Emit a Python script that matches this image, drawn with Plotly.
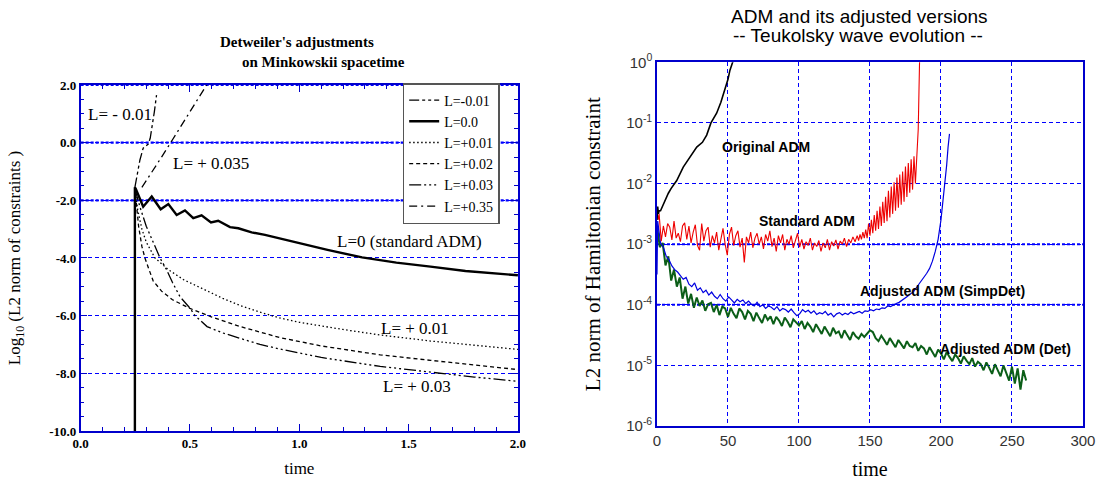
import numpy as np
import plotly.graph_objects as go

# ---------------- Left panel data (log10 of L2 norm) ----------------
t_L0 = [0.248, 0.248, 0.252, 0.286, 0.325, 0.366, 0.401, 0.439, 0.477, 0.515, 0.553, 0.596,
        0.629, 0.683, 0.721, 0.782, 0.843, 0.934, 1.026, 1.129, 1.287, 1.444, 1.60, 1.76, 2.0]
y_L0 = [-10.0, -1.55, -1.6, -2.22, -1.87, -2.31, -2.13, -2.51, -2.35, -2.62, -2.52, -2.77,
        -2.71, -2.93, -2.97, -3.11, -3.20, -3.37, -3.55, -3.72, -3.98, -4.16, -4.30, -4.45, -4.60]

t_Lm001 = [0.248, 0.26, 0.271, 0.286, 0.299, 0.309, 0.318, 0.325, 0.337, 0.347]
y_Lm001 = [-1.55, -1.1, -0.6, -0.19, -0.09, -0.05, 0.15, 0.44, 1.07, 1.65]

t_L001 = [0.248, 0.26, 0.28, 0.30, 0.34, 0.40, 0.47, 0.55, 0.65, 0.73, 0.82, 0.91, 1.0,
          1.2, 1.37, 1.6, 1.8, 2.0]
y_L001 = [-1.6, -2.3, -3.0, -3.45, -4.0, -4.4, -4.75, -5.05, -5.4, -5.65, -5.88, -6.08, -6.23,
          -6.48, -6.67, -6.88, -7.03, -7.17]

t_L002 = [0.248, 0.255, 0.265, 0.28, 0.294, 0.31, 0.332, 0.37, 0.42, 0.5, 0.6, 0.73, 0.91,
          1.1, 1.37, 1.6, 1.8, 2.0]
y_L002 = [-1.6, -2.2, -2.9, -3.6, -4.0, -4.35, -4.8, -5.15, -5.45, -5.75, -6.05, -6.38, -6.76,
          -7.05, -7.36, -7.55, -7.72, -7.87]

t_L003 = [0.248, 0.27, 0.30, 0.33, 0.363, 0.393, 0.42, 0.454, 0.5, 0.523, 0.578, 0.65, 0.735,
          0.82, 0.913, 1.1, 1.37, 1.6, 1.8, 2.0]
y_L003 = [-1.6, -2.2, -2.9, -3.45, -4.0, -4.41, -4.85, -5.34, -5.74, -6.0, -6.38, -6.6, -6.81,
          -7.0, -7.16, -7.45, -7.76, -7.97, -8.13, -8.28]

t_L035 = [0.28, 0.32, 0.37, 0.42, 0.47, 0.52, 0.576]
y_L035 = [-1.55, -1.1, -0.5, 0.1, 0.72, 1.35, 2.0]

# ---------------- Right panel data (log10 of Hamiltonian constraint) ----------------
t_orig = [0, 0.5, 1, 1.5, 2.5, 4, 5.6, 8, 10, 13.9, 18.5, 23.2, 28, 32, 35, 38, 42, 45,
          47.9, 50, 51.4, 53.3, 54]
y_orig = [-2.6, -2.38, -2.5, -2.45, -2.45, -2.37, -2.28, -2.16, -2.08, -1.95, -1.73, -1.56,
          -1.40, -1.32, -1.2, -1.0, -0.84, -0.66, -0.46, -0.28, -0.13, 0.0, 0.05]

t_std_start = [0, 0.8, 1.5]
y_std_start = [-2.45, -2.6, -2.5]
t_std_flat = list(np.arange(3, 140, 1.5))
y_std_flat = [-2.95, -2.7, -2.88, -2.66, -2.72, -2.93, -2.62, -2.9, -2.82, -2.96, -2.7, -2.65,
              -2.92, -2.7, -2.98, -2.8, -2.68, -3.02, -3.1, -2.66, -2.95, -2.78, -2.72, -3.05,
              -2.86, -2.98, -2.8, -3.1, -2.9, -2.74, -3.0, -3.18,
              -2.84, -2.72, -3.02, -2.86, -2.78, -3.05, -2.9, -3.3, -2.88, -2.98, -2.8, -3.06,
              -2.9, -2.82, -3.0, -2.88, -3.08, -2.84, -2.95, -2.78, -3.04, -2.9, -3.12, -2.86,
              -2.98, -2.84, -3.1, -2.92, -3.0, -2.86, -3.06, -2.94, -2.82,
              -3.05, -2.92, -3.08, -2.96, -3.02, -2.9, -3.1, -2.98, -3.04, -2.94, -3.12, -2.98,
              -3.06, -2.92, -3.1, -2.96, -3.03, -2.93, -3.08, -2.95, -3.0, -2.9, -3.04, -2.92,
              -2.98, -2.88, -2.96]
t_std_rise = list(np.arange(141, 184, 1))
y_std_rise = [-2.86, -2.94, -2.84, -2.92, -2.8, -2.9, -2.76, -2.9, -2.66, -2.86, -2.6, -2.82,
              -2.52, -2.78, -2.45, -2.75, -2.38, -2.7, -2.3, -2.65, -2.22, -2.62, -2.12, -2.56,
              -2.05, -2.5, -1.98, -2.45, -1.9, -2.4, -1.85, -2.35, -1.8, -2.3, -1.72, -2.22,
              -1.66, -2.15, -1.6, -2.1, -1.55, -2.0, -1.45]
t_std_end = [183.5, 184, 184.5, 185]
y_std_end = [-1.38, -1.1, -0.5, 0.1]

t_simp_start = [0]
y_simp_start = [-3.5]
t_simp_main = list(np.arange(0.5, 181, 2))
y_simp_main = [-2.62, -2.98, -3.05, -3.2, -3.26, -3.36, -3.42, -3.46, -3.52, -3.58, -3.55, -3.66,
               -3.7, -3.64, -3.76, -3.72,
               -3.8, -3.76, -3.84, -3.79, -3.86, -3.9, -3.83, -3.9, -3.94, -3.87, -3.92, -3.97,
               -3.91, -3.95, -3.92,
               -3.98, -3.94, -3.99, -4.02, -3.96, -4.03, -4.0, -4.06, -4.02, -4.04, -4.08, -4.03,
               -4.1, -4.06, -4.08, -4.12, -4.07, -4.13, -4.18, -4.15,
               -4.08, -4.12, -4.09, -4.14, -4.1, -4.16, -4.13, -4.15, -4.11, -4.17, -4.14, -4.2,
               -4.15, -4.13, -4.17, -4.14, -4.16, -4.12, -4.15, -4.13,
               -4.11, -4.14, -4.1, -4.11, -4.08, -4.1, -4.07, -4.08, -4.05, -4.06, -4.02, -4.03,
               -4.0, -3.98, -3.96, -3.93, -3.9, -3.86, -3.82, -3.79]
t_simp_end = [182, 184, 186, 188, 190, 192, 194, 196, 198, 200, 202, 204, 205, 206]
y_simp_end = [-3.74, -3.68, -3.62, -3.55, -3.48, -3.4, -3.28, -3.12, -2.92, -2.6, -2.2, -1.7,
              -1.4, -1.18]

t_det = list(np.arange(0, 261, 2))
y_det = [-2.7, -3.05, -2.98, -3.35, -3.2, -3.6, -3.42, -3.7, -3.55, -3.9, -3.7, -3.98, -3.82,
         -4.05, -3.88, -4.02,
         -3.93, -4.1, -3.99, -3.97, -4.12, -4.0, -4.17, -4.03, -4.06, -4.2, -4.05, -4.15, -4.22,
         -4.06, -4.12,
         -4.24, -4.1, -4.15, -4.27, -4.13, -4.22, -4.3, -4.16, -4.25, -4.19, -4.32, -4.2, -4.26,
         -4.35, -4.21, -4.28, -4.37, -4.24, -4.3, -4.34,
         -4.27, -4.4, -4.3, -4.36, -4.45, -4.32, -4.4, -4.48, -4.36, -4.43, -4.52, -4.38, -4.47,
         -4.44, -4.55, -4.42, -4.5, -4.58, -4.45, -4.52,
         -4.56, -4.48, -4.53, -4.47, -4.42, -4.45, -4.55, -4.6, -4.51, -4.58, -4.66, -4.55,
         -4.62, -4.7, -4.58, -4.64, -4.72, -4.6, -4.68, -4.7,
         -4.63, -4.76, -4.68, -4.72, -4.82, -4.7, -4.78, -4.86, -4.74, -4.8, -4.9, -4.78, -4.86,
         -4.93, -4.82, -4.88, -4.97, -4.85, -4.92, -4.98,
         -4.88, -5.02, -4.94, -4.98, -5.08, -4.95, -5.04, -5.14, -4.98, -5.08, -5.18, -5.0,
         -5.12, -5.25, -5.02, -5.3, -5.05, -5.4, -5.08, -5.25]

BLUE = "#0000cc"
GRID = "#0000ff"
SERIF = "Liberation Serif"
SANS = "Liberation Sans"

fig = go.Figure()

# ---- left panel emphasized grid lines ----
for yv in [2.0, 0.0, -2.0]:
    fig.add_trace(go.Scatter(x=[0, 2], y=[yv, yv], mode="lines", xaxis="x", yaxis="y",
                             line=dict(color=GRID, width=2.2, dash="3px,2px"),
                             showlegend=False, hoverinfo="skip"))

left_series = [
    ("L=-0.01", t_Lm001, y_Lm001, 1.3, "10px,3px,3px,3px,3px,3px"),
    ("L=0.0", t_L0, y_L0, 2.4, "solid"),
    ("L=+0.01", t_L001, y_L001, 1.3, "1.5px,2.5px"),
    ("L=+0.02", t_L002, y_L002, 1.3, "4px,3px"),
    ("L=+0.03", t_L003, y_L003, 1.3, "12px,3px,2px,3px,2px,3px,2px,3px"),
    ("L=+0.35", t_L035, y_L035, 1.3, "8px,4px,2px,4px"),
]
for name, tx, ty, w, d in left_series:
    fig.add_trace(go.Scatter(x=tx, y=ty, mode="lines", name=name, xaxis="x", yaxis="y",
                             line=dict(color="black", width=w, dash=d), showlegend=True))

# ---- right panel emphasized grid lines ----
for yv in [1e-3, 1e-4]:
    fig.add_trace(go.Scatter(x=[0, 300], y=[yv, yv], mode="lines", xaxis="x2", yaxis="y2",
                             line=dict(color=GRID, width=2, dash="3px,2px"),
                             showlegend=False, hoverinfo="skip"))

def pw(v):
    return [10.0 ** a for a in v]

fig.add_trace(go.Scatter(x=t_det, y=pw(y_det), mode="lines", xaxis="x2", yaxis="y2",
                         line=dict(color="#0b5e18", width=2.0), showlegend=False))
fig.add_trace(go.Scatter(x=t_simp_start + t_simp_main + t_simp_end,
                         y=pw(y_simp_start + y_simp_main + y_simp_end), mode="lines",
                         xaxis="x2", yaxis="y2",
                         line=dict(color="#0000e0", width=1.2), showlegend=False))
fig.add_trace(go.Scatter(x=t_std_start + t_std_flat + t_std_rise + t_std_end,
                         y=pw(y_std_start + y_std_flat + y_std_rise + y_std_end), mode="lines",
                         xaxis="x2", yaxis="y2",
                         line=dict(color="#ee0000", width=1.1), showlegend=False))
fig.add_trace(go.Scatter(x=t_orig, y=pw(y_orig), mode="lines", xaxis="x2", yaxis="y2",
                         line=dict(color="black", width=1.6), showlegend=False))

def ann(text, x, y, xref, yref, fam, size):
    return dict(text=text, x=x, y=y, xref=xref, yref=yref, showarrow=False,
                xanchor="center", yanchor="middle",
                font=dict(family=fam, size=size, color="black"))

annotations = [
    ann("<b>Detweiler's adjustments</b>", 0.2702, 0.9127, "paper", "paper", SERIF, 15),
    ann("<b>on Minkowskii spacetime</b>", 0.2948, 0.8711, "paper", "paper", SERIF, 15),
    ann("ADM and its adjusted versions", 0.7825, 0.9647, "paper", "paper", SANS, 19),
    ann("-- Teukolsky wave evolution --", 0.7807, 0.9272, "paper", "paper", SANS, 19),
    ann("L= - 0.01", 0.178, 0.96, "x", "y", SERIF, 17),
    ann("L= + 0.035", 0.595, -0.74, "x", "y", SERIF, 17),
    ann("L=0 (standard ADM)", 1.506, -3.44, "x", "y", SERIF, 17),
    ann("L= + 0.01", 1.529, -6.43, "x", "y", SERIF, 17),
    ann("L= + 0.03", 1.537, -8.46, "x", "y", SERIF, 17),
    ann("<b>Original ADM</b>", 76.8, -1.40, "x2", "y2", SANS, 14),
    ann("<b>Standard ADM</b>", 105.6, -2.61, "x2", "y2", SANS, 14),
    ann("<b>Adjusted ADM (SimpDet)</b>", 201.4, -3.77, "x2", "y2", SANS, 14),
    ann("<b>Adjusted ADM (Det)</b>", 245.8, -4.73, "x2", "y2", SANS, 14),
]

fig.update_layout(
    width=1099, height=481, margin=dict(l=0, r=0, t=0, b=0),
    paper_bgcolor="white", plot_bgcolor="white",
    showlegend=True,
    legend=dict(x=0.3664, y=0.8274, xanchor="left", yanchor="top",
                bgcolor="white", bordercolor="#555", borderwidth=1.5,
                font=dict(family=SERIF, size=14, color="black"),
                tracegroupgap=0, itemwidth=30),
    annotations=annotations,
    xaxis=dict(domain=[0.0734, 0.4713], range=[0, 2], anchor="y", automargin=False,
               showline=True, linecolor=BLUE, linewidth=1.5, mirror="allticks",
               showgrid=False, zeroline=False,
               ticks="inside", ticklen=7, tickcolor=BLUE, tickwidth=1,
               tickvals=[0, 0.5, 1.0, 1.5, 2.0], ticktext=["0.0", "0.5", "1.0", "1.5", "2.0"],
               minor=dict(dtick=0.1, ticks="inside", ticklen=4, tickcolor=BLUE, showgrid=False),
               tickfont=dict(family=SERIF, size=13, color="black", weight="bold"),
               title=dict(text="time", font=dict(family=SERIF, size=17, color="black"),
                          standoff=12)),
    yaxis=dict(domain=[0.1040, 0.8233], range=[-10, 2], anchor="x", automargin=False,
               showline=True, linecolor=BLUE, linewidth=1.5, mirror="allticks",
               showgrid=True, gridcolor=GRID, gridwidth=1, griddash="4px,3px",
               zeroline=False,
               ticks="inside", ticklen=7, tickcolor=BLUE, tickwidth=1,
               tickvals=[-10, -8, -6, -4, -2, 0, 2],
               ticktext=["-10.0", "-8.0", "-6.0", "-4.0", "-2.0", "0.0", "2.0"],
               minor=dict(dtick=0.5, tick0=0, ticks="inside", ticklen=4, tickcolor=BLUE,
                          showgrid=False),
               tickfont=dict(family=SERIF, size=13, color="black", weight="bold"),
               title=dict(text="Log<sub>10</sub> (L2 norm of constraints )",
                          font=dict(family=SERIF, size=17, color="black"), standoff=24)),
    xaxis2=dict(domain=[0.5978, 0.9854], range=[0, 300], anchor="y2", automargin=False,
                showline=True, linecolor=BLUE, linewidth=1.5, mirror=True,
                showgrid=True, gridcolor=GRID, gridwidth=1, griddash="4px,3px",
                zeroline=False, ticks="", dtick=50,
                tickfont=dict(family=SANS, size=15, color="#333"),
                title=dict(text="time", font=dict(family=SERIF, size=20, color="black"),
                           standoff=14)),
    yaxis2=dict(domain=[0.1143, 0.8705], type="log", range=[-6, 0], anchor="x2",
                automargin=False,
                showline=True, linecolor=BLUE, linewidth=1.5, mirror=True,
                showgrid=True, gridcolor=GRID, gridwidth=1, griddash="4px,3px",
                zeroline=False, ticks="",
                tickvals=[1e-6, 1e-5, 1e-4, 1e-3, 1e-2, 1e-1, 1],
                ticktext=["10<sup>-6</sup>", "10<sup>-5</sup>", "10<sup>-4</sup>",
                          "10<sup>-3</sup>", "10<sup>-2</sup>", "10<sup>-1</sup>",
                          "10<sup>0</sup>"],
                tickfont=dict(family=SANS, size=15, color="#333"),
                title=dict(text="L2 norm of Hamiltonian constraint",
                           font=dict(family=SERIF, size=21, color="black"), standoff=20)),
)

fig.write_html("out.html",
               config={"displayModeBar": False},
               post_script="document.body.style.margin='0px';"
                           "document.body.style.overflow='hidden';")
